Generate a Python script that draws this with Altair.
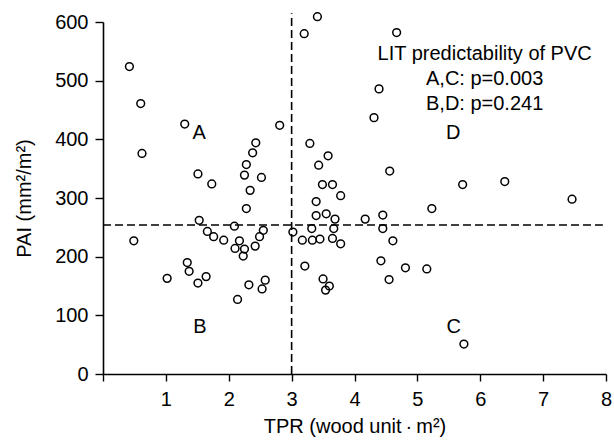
import altair as alt
import pandas as pd

# TPR (x) and PAI (y) values
tpr = [0.42, 0.60, 0.62, 1.30, 2.81, 2.43, 2.38, 2.28, 2.25, 2.52, 1.51, 1.73, 2.34, 2.28, 1.53,
       2.09, 0.49, 1.66, 1.76, 1.92, 2.17, 2.10, 2.25, 2.23, 2.42, 2.49, 2.55, 1.34, 1.37, 1.02,
       1.51, 1.64, 2.32, 2.58, 2.53, 2.14,
       3.02, 3.41, 3.20, 4.67, 4.39, 4.31, 3.29, 3.58, 3.43, 4.56, 5.72, 6.39, 7.46, 3.49, 3.65,
       3.78, 3.39, 5.23, 3.39, 3.55, 3.69, 4.17, 4.45, 3.32, 3.67, 4.45, 3.17, 3.33, 3.45, 3.65,
       3.78, 4.61, 3.21, 4.42, 4.81, 5.15, 3.50, 3.60, 3.54, 4.55, 5.74]
pai = [524, 461, 376, 426, 424, 394, 377, 357, 339, 335, 341, 324, 313, 282, 262,
       252, 227, 243, 234, 228, 227, 214, 213, 201, 218, 234, 245, 190, 175, 163,
       155, 166, 152, 160, 145, 127,
       242, 609, 580, 582, 486, 437, 393, 372, 356, 346, 323, 328, 298, 323, 323,
       304, 294, 282, 270, 273, 264, 264, 271, 248, 248, 248, 228, 228, 230, 231,
       222, 227, 184, 193, 181, 179, 162, 150, 143, 161, 51]

quad_labels = ["A", "B", "C", "D"]
quad_x = [1.53, 1.54, 5.58, 5.57]
quad_y = [410, 80, 80, 410]

note_lines = ["LIT predictability of PVC", "A,C: p=0.003", "B,D: p=0.241"]
note_x = [6.07, 6.07, 6.07]
note_y = [545, 503, 461]

x_cut = 3.0
y_cut = 254
x_ticks = [0, 1, 2, 3, 4, 5, 6, 7, 8]
y_ticks = [0, 100, 200, 300, 400, 500, 600]

FONT = "Liberation Sans"
FS = 20

pts = pd.DataFrame({"TPR": tpr, "PAI": pai})
quads = pd.DataFrame({"label": quad_labels, "x": quad_x, "y": quad_y})
notes = pd.DataFrame({"text": note_lines, "x": note_x, "y": note_y})
vline = pd.DataFrame({"x": [x_cut], "y": [0], "y2": [615]})
hline = pd.DataFrame({"x": [0], "x2": [7.95], "y": [y_cut]})

xscale = alt.Scale(domain=[0, 8], nice=False, zero=False)
yscale = alt.Scale(domain=[0, 600], nice=False)

xaxis = alt.Axis(values=x_ticks, title="TPR (wood unit\u2009·\u2009m²)", grid=False, format="d",
                 labelExpr="datum.value == 0 ? '' : datum.label",
                 tickSize=7, labelPadding=8, titlePadding=7, labelFontSize=FS, titleFontSize=FS,
                 labelFont=FONT, titleFont=FONT, titleFontWeight="normal",
                 domainColor="black", tickColor="black", labelColor="black", titleColor="black",
                 domainWidth=1.6, tickWidth=1.4, labelFlush=False)
yaxis = alt.Axis(values=y_ticks, title="PAI (mm²/m²)", grid=False, format="d",
                 tickSize=8, labelPadding=7, titlePadding=20, labelFontSize=FS, titleFontSize=FS,
                 labelFont=FONT, titleFont=FONT, titleFontWeight="normal",
                 domainColor="black", tickColor="black", labelColor="black", titleColor="black",
                 domainWidth=1.6, tickWidth=1.4, labelFlush=False)

points = alt.Chart(pts).mark_point(shape="circle", filled=False, color="black",
                                   size=60, strokeWidth=1.5, opacity=1).encode(
    x=alt.X("TPR:Q", scale=xscale, axis=xaxis),
    y=alt.Y("PAI:Q", scale=yscale, axis=yaxis),
)

v = alt.Chart(vline).mark_rule(color="black", strokeWidth=1.6, strokeDash=[8, 4]).encode(
    x=alt.X("x:Q", scale=xscale), y=alt.Y("y:Q", scale=yscale), y2="y2:Q")
h = alt.Chart(hline).mark_rule(color="black", strokeWidth=1.6, strokeDash=[8, 4]).encode(
    x=alt.X("x:Q", scale=xscale), x2="x2:Q", y=alt.Y("y:Q", scale=yscale))

qtext = alt.Chart(quads).mark_text(font=FONT, fontSize=FS, color="black",
                                   align="center", baseline="middle").encode(
    x=alt.X("x:Q", scale=xscale), y=alt.Y("y:Q", scale=yscale), text="label:N")

ntext = alt.Chart(notes).mark_text(font=FONT, fontSize=FS, color="black",
                                   align="center", baseline="middle").encode(
    x=alt.X("x:Q", scale=xscale), y=alt.Y("y:Q", scale=yscale), text="text:N")

chart = alt.layer(v, h, points, qtext, ntext).properties(
    width=503, height=352,
    autosize=alt.AutoSizeParams(type="none"),
    padding={"left": 103, "top": 22, "right": 8, "bottom": 69},
    background="white",
).configure_view(stroke=None)

chart.save("out.html", embed_options={"renderer": "svg", "actions": False})
